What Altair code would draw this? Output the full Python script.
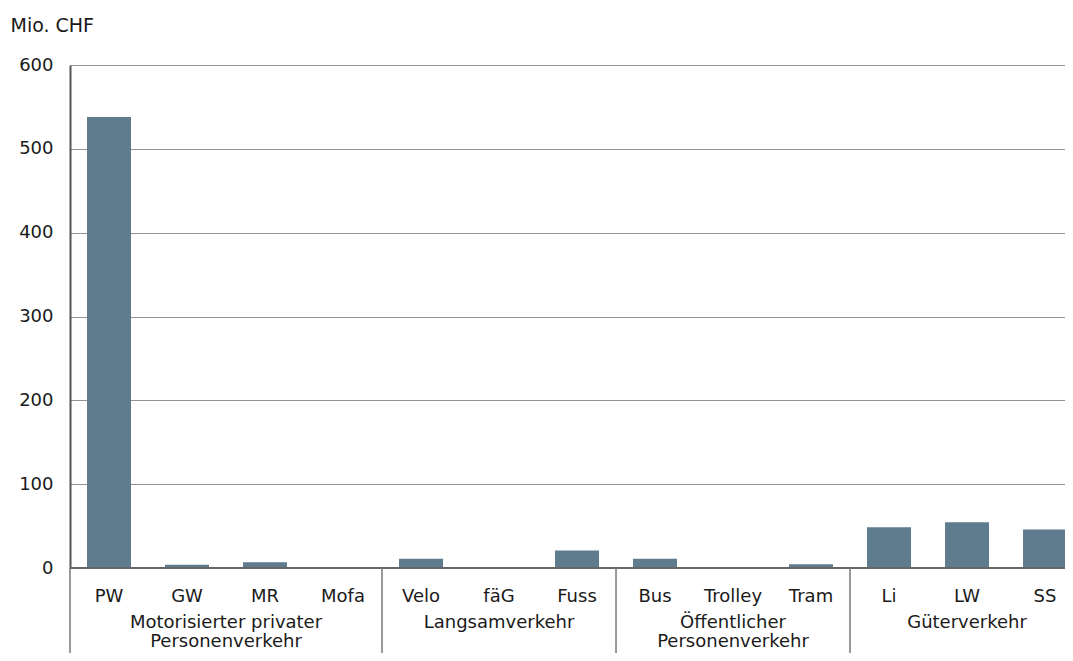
import altair as alt
import pandas as pd

categories = ["PW", "GW", "MR", "Mofa", "Velo", "fäG", "Fuss", "Bus", "Trolley", "Tram", "Li", "LW", "SS"]
values = [538, 4, 7, 0, 11, 0, 21, 11, 0, 4.5, 48.5, 54.5, 46]
groups = ["Motorisierter privater\nPersonenverkehr", "Langsamverkehr", "Öffentlicher\nPersonenverkehr", "Güterverkehr"]
group_sizes = [4, 3, 3, 3]
y_ticks = [0, 100, 200, 300, 400, 500, 600]
y_title = "Mio. CHF"

FONT = "DejaVu Sans"
BAR = "#5f7b8e"
TXT = "#1a1a1a"

bars_df = pd.DataFrame({"idx": list(range(len(categories))), "cat": categories, "value": values})

g_rows = []
start = 0
for g, n in zip(groups, group_sizes):
    g_rows.append({"label": g, "center": start + (n - 1) / 2, "left": start - 0.5})
    start += n
groups_df = pd.DataFrame(g_rows)
zero_df = pd.DataFrame({"v": [0]})

xscale = alt.Scale(domain=[-0.5, 12.256], nice=False, zero=False)
yscale = alt.Scale(domain=[0, 600], nice=False)

bars = alt.Chart(bars_df).transform_calculate(
    x1="datum.idx - 0.282", x2="datum.idx + 0.282", base="0"
).mark_bar(color=BAR, clip=True).encode(
    x=alt.X("x1:Q", scale=xscale, axis=None),
    x2="x2:Q",
    y=alt.Y("value:Q", scale=yscale,
            axis=alt.Axis(values=y_ticks, grid=True, gridColor="#939393", gridWidth=1.2,
                          domain=True, domainColor="#555555", domainWidth=2,
                          ticks=False, tickSize=0, labelPadding=17,
                          labelFont=FONT, labelFontSize=18, labelColor=TXT,
                          title=y_title, titleAngle=0, titleAlign="left",
                          titleBaseline="alphabetic", titleX=-60, titleY=-34,
                          titleFont=FONT, titleFontSize=19, titleFontWeight="normal",
                          titleColor=TXT)),
    y2="base:Q",
)

zero = alt.Chart(zero_df).mark_rule(color="#666666", strokeWidth=2).encode(
    y=alt.Y("v:Q", scale=yscale)
)

seps = alt.Chart(groups_df).mark_rule(color="#777777", strokeWidth=1.5).encode(
    x=alt.X("left:Q", scale=xscale),
    y=alt.value(503), y2=alt.value(720),
)

cat_labels = alt.Chart(bars_df).mark_text(
    font=FONT, fontSize=18, color=TXT, baseline="alphabetic", align="center"
).encode(
    x=alt.X("idx:Q", scale=xscale), y=alt.value(537), text="cat:N"
)

grp_labels = alt.Chart(groups_df).mark_text(
    font=FONT, fontSize=18, color=TXT, baseline="alphabetic", align="center",
    lineBreak="\n", lineHeight=19
).encode(
    x=alt.X("center:Q", scale=xscale), y=alt.value(563), text="label:N"
)

chart = alt.layer(bars, zero, seps, cat_labels, grp_labels).properties(
    width=995, height=503,
    autosize=alt.AutoSizeParams(type="none"),
    padding={"left": 62, "top": 57, "right": 0, "bottom": 85},
).configure_view(stroke=None).configure(background="white")

chart.save("out.html", embed_options={"renderer": "svg", "actions": False})
